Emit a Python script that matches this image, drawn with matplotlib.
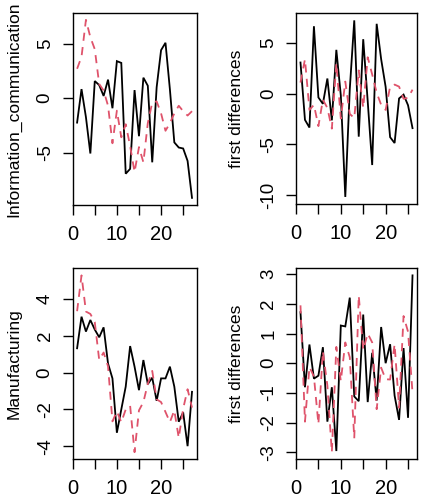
import numpy as np
import matplotlib
matplotlib.use("Agg")
import matplotlib.pyplot as plt
from matplotlib.ticker import FixedLocator, FixedFormatter

# ---- data ----
t_levels = list(range(1, 28))
t_diffs = list(range(1, 27))

info_black = [-2.25, 0.83, -1.75, -5.09, 1.57, 1.2, 0.2, 1.7, -0.93, 3.4, 3.24, -6.95, -6.5,
              0.74, -3.5, 1.88, 1.14, -5.9, 1.0, 4.41, 5.09, 0.8, -4.07, -4.54, -4.63, -5.77, -9.17]
info_red = [2.7, 3.8, 7.2, 5.6, 4.5, 1.3, 0.7, -0.7, -4.15, -1.15, -3.6, -2.4, -4.4, -6.8,
            -4.5, -5.9, -2.3, -0.4, -0.3, -1.4, -3.0, -2.3, -1.4, -0.7, -1.2, -1.6, -1.2]
info_black_diff = [3.08, -2.58, -3.34, 6.66, -0.37, -1.0, 1.5, -2.63, 4.33, -0.16, -10.19, 0.45,
                   7.24, -4.24, 5.38, -0.74, -7.04, 6.9, 3.41, 0.68, -4.29, -4.87, -0.47, -0.09,
                   -1.14, -3.4]
info_red_diff = [1.1, 3.4, -1.6, -1.1, -3.2, -0.6, -1.4, -3.45, 3.0, -2.45, 1.2, -2.0, -2.4, 2.3,
                 -1.4, 3.6, 1.9, 0.1, -1.1, -1.6, 0.7, 0.9, 0.7, -0.5, -0.4, 0.4]

manu_black = [1.33, 3.05, 2.24, 2.87, 2.35, 1.93, 2.47, 0.5, -0.31, -3.27, -2.0, -0.76, 1.45,
              0.33, -0.95, 0.69, -0.62, -0.27, -1.53, -0.31, -0.31, 0.33, -0.76, -2.67, -2.16,
              -4.0, -1.04]
manu_red = [3.35, 5.3, 3.33, 3.2, 2.75, 0.7, 1.1, 0.35, -2.65, -2.1, -2.7, -2.0, -1.8, -4.33,
            -2.05, -1.6, -0.6, 0.1, -1.45, -1.6, -2.14, -2.69, -2.05, -3.55, -1.96, -0.9, -1.9]
manu_black_diff = [1.72, -0.81, 0.63, -0.52, -0.42, 0.54, -1.97, -0.81, -2.96, 1.27, 1.24, 2.21,
                   -1.12, -1.28, 1.64, -1.31, 0.35, -1.26, 1.22, 0.0, 0.64, -1.09, -1.91, 0.51,
                   -1.84, 2.96]
manu_red_diff = [1.95, -1.97, -0.13, -0.45, -2.05, 0.4, -0.75, -3.0, 0.55, -0.6, 0.7, 0.2, -2.53,
                 2.28, 0.45, 1.0, 0.7, -1.55, -0.15, -0.54, -0.55, 0.64, -1.5, 1.59, 1.06, -1.0]

ylabels = ["Information_communication", "first differences", "Manufacturing", "first differences"]
x_ticks = [0, 5, 10, 15, 20, 25]
x_tick_labels = ["0", "", "10", "", "20", ""]
y_ticks_list = [[-5, 0, 5], [-10, -5, 0, 5], [-4, -2, 0, 2, 4], [-3, -2, -1, 0, 1, 2, 3]]

RED = "#DF536B"
FONT = "Liberation Sans"

fig = plt.figure(figsize=(4.22, 5.0), dpi=100)

W, H = 422.0, 500.0
# axes boxes in pixels (left, top, right, bottom)
boxes = [(72.5, 12.7, 196.6, 205.0),
         (296.0, 13.3, 417.0, 204.0),
         (72.5, 268.3, 196.6, 459.3),
         (296.0, 268.3, 417.0, 459.3)]

panels = [(t_levels, info_black, info_red),
          (t_diffs, info_black_diff, info_red_diff),
          (t_levels, manu_black, manu_red),
          (t_diffs, manu_black_diff, manu_red_diff)]


def rlim(vals):
    lo, hi = min(vals), max(vals)
    r = hi - lo
    return lo - 0.04 * r, hi + 0.04 * r


for i, ((x, yb, yr), (l, t, r, b)) in enumerate(zip(panels, boxes)):
    ax = fig.add_axes([l / W, 1 - b / H, (r - l) / W, (b - t) / H])
    ax.plot(x, yb, color="black", lw=1.3, solid_joinstyle="miter")
    ax.plot(x, yr, color=RED, lw=1.3, linestyle=(0, (4.5, 3.5)))
    ax.set_xlim(*rlim(x))
    ax.set_ylim(*rlim(list(yb) + list(yr)))
    ax.xaxis.set_major_locator(FixedLocator(x_ticks))
    ax.xaxis.set_major_formatter(FixedFormatter(x_tick_labels))
    ax.set_yticks(y_ticks_list[i])
    ax.set_yticklabels([str(v) for v in y_ticks_list[i]], rotation=90, va="center",
                       fontfamily=FONT, fontsize=13.5)
    for lab in ax.get_xticklabels():
        lab.set_fontfamily(FONT)
        lab.set_fontsize(14.5)
    ax.tick_params(axis="both", direction="out", length=7.5, width=1.0, color="black")
    ax.tick_params(axis="x", pad=7)
    ax.tick_params(axis="y", pad=6)
    for sp in ax.spines.values():
        sp.set_linewidth(1.0)
    ax.set_ylabel(ylabels[i], fontsize=12.6, fontfamily=FONT)
    ax.yaxis.set_label_coords(((14.0 if i % 2 == 0 else 236.5) - l) / (r - l), 0.5)
    ax.yaxis.label.set_va("center")

fig.savefig("out.png", dpi=100)
